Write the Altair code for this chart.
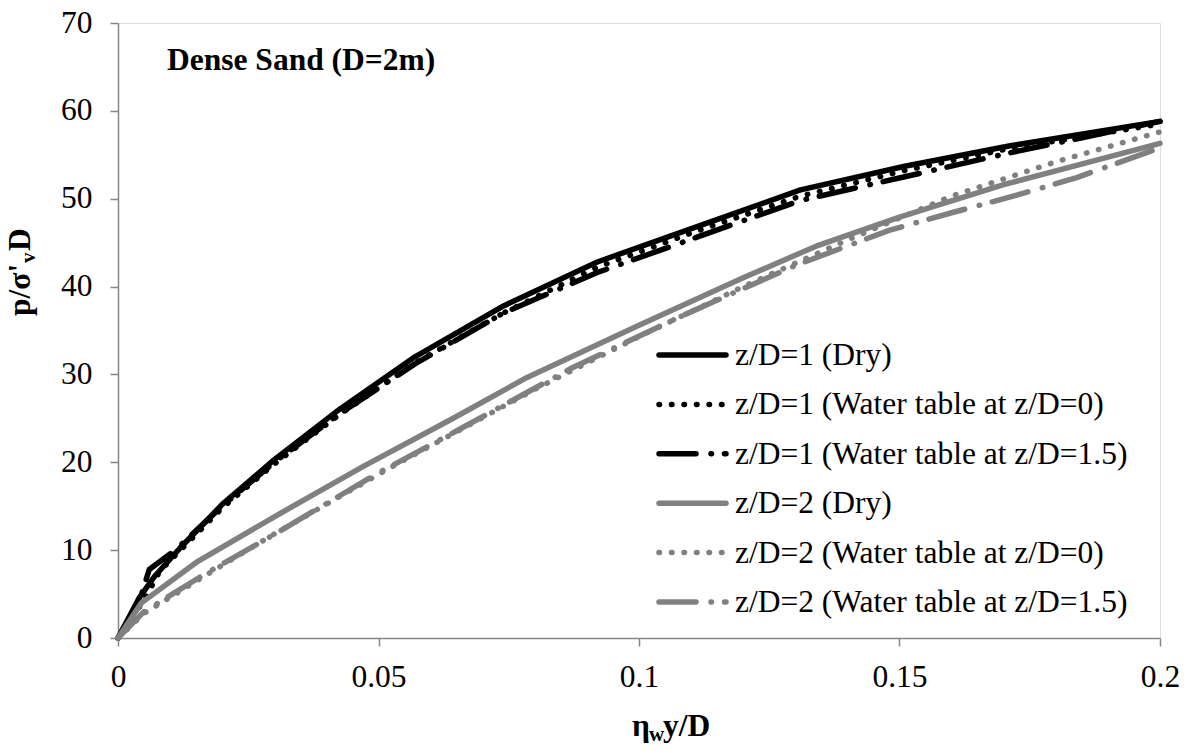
import altair as alt
import pandas as pd

# ---- data ----
labels = [
    "z/D=1 (Dry)",
    "z/D=1 (Water table at z/D=0)",
    "z/D=1 (Water table at z/D=1.5)",
    "z/D=2 (Dry)",
    "z/D=2 (Water table at z/D=0)",
    "z/D=2 (Water table at z/D=1.5)",
]

x_d1_dry = [0, 0.004, 0.007, 0.012, 0.02, 0.03, 0.042, 0.057, 0.074, 0.092, 0.111, 0.131, 0.151, 0.171, 0.2]
y_d1_dry = [0, 4.5, 7.0, 10.3, 15.2, 20.3, 25.8, 32.0, 37.8, 42.8, 46.8, 51.0, 53.7, 56.0, 58.8]

x_d1_w0 = [0, 0.005, 0.008, 0.013, 0.02, 0.03, 0.042, 0.057, 0.074, 0.092, 0.111, 0.131, 0.151, 0.171, 0.2]
y_d1_w0 = [0, 4.3, 7.6, 10.6, 14.8, 19.8, 25.2, 31.3, 37.0, 42.2, 46.3, 50.3, 53.2, 55.7, 58.5]

x_d1_w15 = [0, 0.004, 0.006, 0.011, 0.02, 0.03, 0.042, 0.057, 0.074, 0.092, 0.111, 0.131, 0.151, 0.171, 0.2]
y_d1_w15 = [0, 4.0, 7.8, 10.0, 15.0, 20.0, 25.3, 31.2, 37.0, 41.6, 45.6, 49.8, 52.5, 55.2, 58.8]

x_d2_dry = [0, 0.0045, 0.015, 0.03, 0.047, 0.064, 0.078, 0.1, 0.12, 0.134, 0.15, 0.17, 0.2]
y_d2_dry = [0, 4.0, 8.6, 13.8, 19.5, 24.9, 29.5, 35.6, 41.0, 44.6, 47.9, 51.6, 56.3]

x_d2_w0 = [0, 0.005, 0.017, 0.029, 0.052, 0.08, 0.1, 0.12, 0.14, 0.16, 0.18, 0.2]
y_d2_w0 = [0, 2.8, 7.2, 11.5, 19.3, 28.3, 34.3, 40.0, 45.3, 50.3, 54.2, 57.6]

x_d2_w15 = [0, 0.005, 0.017, 0.03, 0.05, 0.066, 0.087, 0.108, 0.13, 0.148, 0.16, 0.1725, 0.184, 0.2]
y_d2_w15 = [0, 3.0, 7.4, 11.8, 18.8, 23.9, 30.7, 36.6, 42.4, 46.4, 48.4, 50.4, 52.4, 55.8]

x_ticks = [0, 0.05, 0.1, 0.15, 0.2]
y_ticks = [0, 10, 20, 30, 40, 50, 60, 70]

xs_all = [x_d1_dry, x_d1_w0, x_d1_w15, x_d2_dry, x_d2_w0, x_d2_w15]
ys_all = [y_d1_dry, y_d1_w0, y_d1_w15, y_d2_dry, y_d2_w0, y_d2_w15]

# ---- styles ----
BLACK = "#000000"
GREY = "#808080"
colors = [BLACK, BLACK, BLACK, GREY, GREY, GREY]
DOT = [0.5, 12]
DASHDOT = [37, 15, 0.5, 13]
dashes = [None, DOT, DASHDOT, None, DOT, DASHDOT]
FONT = "Liberation Serif, Times New Roman, serif"
FS = 31.5
AXC = "#868686"
LW = 5.5

xscale = alt.Scale(domain=[0, 0.2], nice=False, zero=False)
yscale = alt.Scale(domain=[0, 70], nice=False)
xaxis = alt.Axis(values=x_ticks, format="~g", title=None, grid=False,
                 domainColor=AXC, domainWidth=1.5, tickColor=AXC, tickWidth=1.5,
                 tickSize=8, labelFont=FONT, labelFontSize=FS, labelColor="black",
                 labelPadding=15, labelFlush=False)
yaxis = alt.Axis(values=y_ticks, title=None, grid=False,
                 domainColor=AXC, domainWidth=1.5, tickColor=AXC, tickWidth=1.5,
                 tickSize=8, labelFont=FONT, labelFontSize=FS, labelColor="black",
                 labelPadding=18)

layers = []
for i in range(6):
    df = pd.DataFrame({"x": xs_all[i], "y": ys_all[i], "series": labels[i]})
    kw = dict(color=colors[i], strokeWidth=LW, strokeCap="round", strokeJoin="round")
    if dashes[i] is not None:
        kw["strokeDash"] = dashes[i]
    layers.append(
        alt.Chart(df).mark_line(**kw).encode(
            x=alt.X("x:Q", scale=xscale, axis=xaxis),
            y=alt.Y("y:Q", scale=yscale, axis=yaxis),
        )
    )

one = alt.Data(values=[{}])

# ---- legend (manual) ----
for i in range(6):
    ry = 332 + 49.4 * i
    kw = dict(color=colors[i], strokeWidth=LW, strokeCap="round")
    if dashes[i] is not None:
        kw["strokeDash"] = dashes[i]
    layers.append(
        alt.Chart(one).mark_rule(**kw).encode(
            x=alt.value(541), x2=alt.value(608), y=alt.value(ry)
        )
    )
    layers.append(
        alt.Chart(one).mark_text(align="left", baseline="alphabetic", font=FONT,
                                 fontSize=FS, color="black").encode(
            x=alt.value(617), y=alt.value(ry + 10), text=alt.value(labels[i])
        )
    )

# ---- annotation ----
layers.append(
    alt.Chart(one).mark_text(align="left", baseline="alphabetic", font=FONT,
                             fontSize=FS, fontWeight="bold", color="black").encode(
        x=alt.value(49), y=alt.value(47), text=alt.value("Dense Sand (D=2m)")
    )
)

def txt(s, x, y, size=FS, angle=0):
    mk = dict(align="left", baseline="alphabetic", font=FONT, fontSize=size,
              fontWeight="bold", color="black")
    if angle:
        mk["angle"] = angle
    return alt.Chart(one).mark_text(**mk).encode(
        x=alt.value(x), y=alt.value(y), text=alt.value(s))

# ---- x title: η_w y/D ----
layers.append(txt("η", 514, 713))
layers.append(txt("w", 531, 718, size=21))
layers.append(txt("y/D", 545, 713))

# ---- y title: p/σ'_v D (rotated) ----
layers.append(txt("p/σ'", -88, 293, angle=270))
layers.append(txt("v", -83, 240, size=21, angle=270))
layers.append(txt("D", -88, 228, angle=270))

chart = alt.layer(*layers).properties(
    width=1042, height=615,
    padding={"left": 110, "top": 15, "right": 22, "bottom": 105},
    autosize=alt.AutoSizeParams(type="none"),
).configure_view(stroke=None).configure(background="white")

chart.save("out.html", embed_options={"renderer": "svg", "actions": False})
